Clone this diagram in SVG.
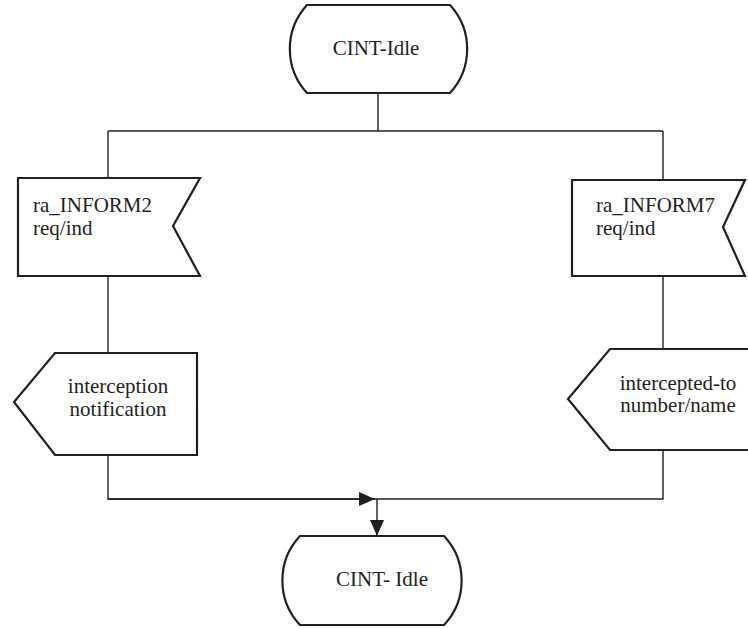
<svg xmlns="http://www.w3.org/2000/svg" width="748" height="629" viewBox="0 0 748 629" font-family="Liberation Serif, serif" font-size="21">
<style>
.shape{fill:#fff;stroke:#231f20;stroke-width:2.2;stroke-linejoin:miter}
.conn{fill:none;stroke:#231f20;stroke-width:1.4}
text{fill:#231f20}
.c{text-anchor:middle}
</style>
<defs>
<marker id="arr" markerWidth="16" markerHeight="14" refX="16" refY="7" orient="auto" markerUnits="userSpaceOnUse">
<path d="M0,0 L16,7 L0,14 Z" fill="#231f20"/>
</marker>
</defs>
<g id="connectors">
<path class="conn" d="M378,93 V131"/>
<path class="conn" d="M108,131 H663"/>
<path class="conn" d="M108,131 V178"/>
<path class="conn" d="M663,131 V180"/>
<path class="conn" d="M108,276 V353"/>
<path class="conn" d="M663,276 V349"/>
<path class="conn" d="M108,455 V499 H663 V450"/>
<path class="conn" d="M108,499 H375" marker-end="url(#arr)"/>
<path class="conn" d="M377,499 V536" marker-end="url(#arr)"/>
</g>
<g id="state-top">
<path class="shape" d="M307,5 H450 A65 65 0 0 1 450,93 H307 A65 65 0 0 1 307,5 Z"/>
<text class="c" x="376" y="55">CINT-Idle</text>
</g>
<g id="input-left">
<path class="shape" d="M18,178 H200 L173,226 L200,276 H18 Z"/>
<text x="33" y="212">ra_INFORM2</text>
<text x="33" y="235">req/ind</text>
</g>
<g id="input-right">
<path class="shape" d="M572,180 H745 L723,227 L745,276 H572 Z"/>
<text x="596" y="212">ra_INFORM7</text>
<text x="596" y="235">req/ind</text>
</g>
<g id="output-left">
<path class="shape" d="M55,353 H197 V455 H55 L14,402 Z"/>
<text class="c" x="118" y="393">interception</text>
<text class="c" x="118" y="416">notification</text>
</g>
<g id="output-right">
<path class="shape" d="M610,349 H752 V450 H610 L568,399 Z"/>
<text class="c" x="678" y="390">intercepted-to</text>
<text class="c" x="678" y="412">number/name</text>
</g>
<g id="state-bottom">
<path class="shape" d="M300,536 H444 A65 65 0 0 1 444,625 H300 A65 65 0 0 1 300,536 Z"/>
<text class="c" x="382" y="586">CINT- Idle</text>
</g>
</svg>
